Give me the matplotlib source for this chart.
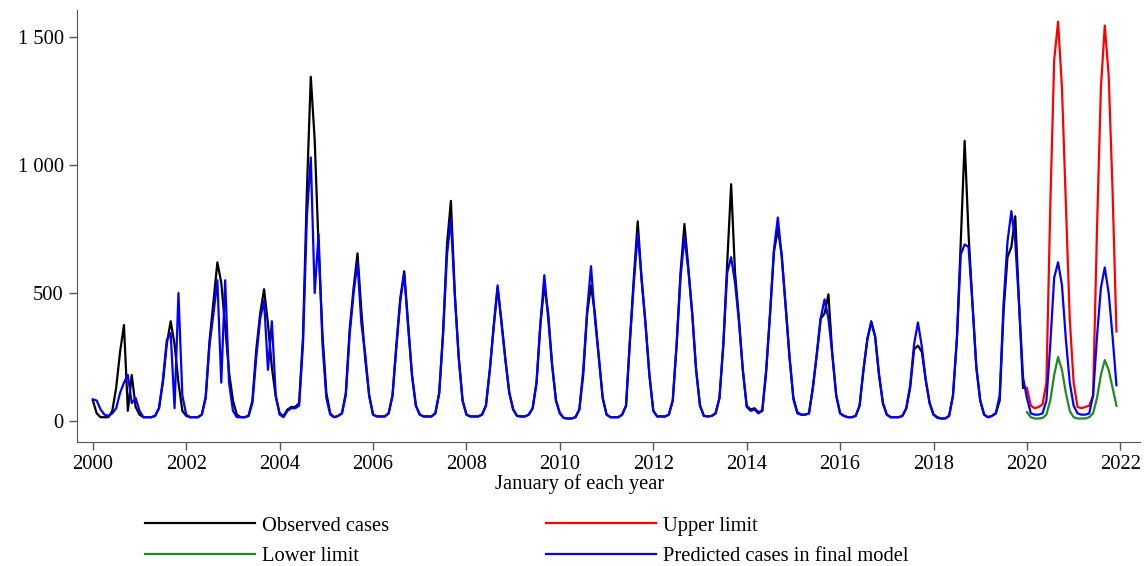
import numpy as np
import matplotlib
matplotlib.use("Agg")
import matplotlib.pyplot as plt

plt.rcParams["font.family"] = ["Liberation Serif", "DejaVu Serif"]

# monthly values, January 2000 - December 2019
observed = [
    80, 30, 15, 15, 15, 40, 130, 270, 375, 40, 180, 55,          # 2000
    25, 15, 15, 15, 20, 50, 150, 300, 390, 300, 150, 40,         # 2001
    20, 15, 15, 15, 25, 95, 316, 470, 620, 540, 370, 190,        # 2002
    80, 25, 15, 15, 20, 80, 280, 420, 515, 380, 210, 95,         # 2003
    30, 20, 45, 55, 55, 70, 330, 900, 1345, 1100, 680, 340,      # 2004
    110, 30, 15, 20, 30, 110, 360, 520, 655, 430, 240, 100,      # 2005
    25, 18, 18, 18, 30, 100, 300, 480, 585, 380, 180, 60,        # 2006
    25, 18, 18, 18, 30, 110, 350, 690, 860, 500, 250, 80,        # 2007
    25, 18, 18, 18, 25, 60, 200, 370, 520, 390, 240, 110,        # 2008
    45, 20, 18, 18, 25, 50, 150, 380, 530, 420, 220, 80,         # 2009
    30, 12, 10, 10, 15, 45, 180, 420, 530, 420, 250, 90,         # 2010
    25, 15, 15, 15, 25, 60, 320, 560, 780, 550, 380, 180,        # 2011
    40, 18, 18, 18, 25, 80, 300, 580, 770, 600, 420, 200,        # 2012
    60, 20, 18, 20, 30, 90, 300, 620, 925, 580, 400, 200,        # 2013
    60, 45, 50, 35, 40, 190, 420, 660, 750, 650, 450, 250,       # 2014
    90, 35, 25, 25, 30, 130, 260, 400, 420, 495, 260, 100,       # 2015
    30, 20, 15, 15, 20, 60, 200, 320, 390, 330, 180, 70,         # 2016
    25, 15, 15, 15, 20, 50, 130, 280, 295, 270, 160, 70,         # 2017
    25, 15, 10, 10, 20, 100, 320, 700, 1095, 730, 460, 210,      # 2018
    80, 25, 15, 20, 30, 80, 430, 640, 680, 800, 450, 130,        # 2019
]

# final model, January 2000 - December 2021
predicted = [
    85, 80, 45, 25, 20, 30, 50, 110, 150, 180, 70, 90,           # 2000
    40, 15, 15, 15, 20, 50, 160, 316, 344, 50, 500, 100,         # 2001
    25, 15, 15, 15, 25, 90, 300, 420, 550, 150, 550, 150,        # 2002
    40, 15, 15, 15, 20, 70, 250, 400, 470, 200, 390, 100,        # 2003
    25, 15, 40, 50, 50, 60, 300, 800, 1030, 500, 730, 300,       # 2004
    90, 25, 15, 20, 30, 100, 340, 500, 620, 380, 260, 100,       # 2005
    25, 18, 18, 18, 30, 100, 290, 470, 575, 370, 180, 60,        # 2006
    25, 18, 18, 18, 30, 110, 340, 650, 790, 490, 250, 80,        # 2007
    25, 18, 18, 18, 25, 60, 200, 370, 530, 380, 240, 110,        # 2008
    45, 20, 18, 18, 25, 50, 150, 380, 570, 400, 220, 80,         # 2009
    30, 12, 10, 10, 15, 45, 200, 430, 605, 400, 250, 90,         # 2010
    25, 15, 15, 15, 25, 60, 310, 540, 735, 560, 380, 180,        # 2011
    40, 18, 18, 18, 25, 80, 300, 560, 720, 590, 420, 200,        # 2012
    60, 20, 18, 20, 30, 90, 300, 580, 640, 540, 390, 200,        # 2013
    55, 40, 45, 30, 40, 200, 420, 670, 795, 640, 450, 250,       # 2014
    85, 30, 25, 25, 30, 130, 260, 400, 475, 400, 260, 100,       # 2015
    30, 20, 15, 15, 20, 60, 200, 320, 385, 330, 180, 70,         # 2016
    25, 15, 15, 15, 20, 50, 140, 300, 385, 290, 160, 70,         # 2017
    25, 12, 10, 10, 20, 100, 320, 650, 690, 680, 460, 210,       # 2018
    80, 25, 15, 20, 30, 100, 460, 700, 820, 700, 450, 170,       # 2019
    90, 30, 25, 25, 30, 80, 300, 560, 620, 530, 320, 150,        # 2020
    60, 30, 25, 25, 30, 100, 330, 520, 600, 500, 330, 140,       # 2021
]

# forecast limits, January 2020 - December 2021
upper = [
    130, 60, 50, 55, 65, 150, 840, 1410, 1560, 1300, 850, 400,
    150, 55, 50, 55, 60, 100, 750, 1300, 1545, 1350, 900, 350,
]
lower = [
    35, 15, 10, 10, 12, 25, 80, 180, 250, 200, 110, 40,
    15, 10, 10, 10, 15, 30, 90, 180, 238, 200, 130, 60,
]

y_ticks = [0, 500, 1000, 1500]
y_tick_labels = ["0", "500", "1 000", "1 500"]
x_ticks = list(range(2000, 2023, 2))

t_obs = 2000 + np.arange(len(observed)) / 12
t_pred = 2000 + np.arange(len(predicted)) / 12
t_fc = 2020 + np.arange(len(upper)) / 12

fig = plt.figure(figsize=(11.45, 5.66), dpi=100)
ax = fig.add_axes([0.0672, 0.219, 0.9284, 0.763])

l_obs, = ax.plot(t_obs, observed, color="black", lw=1.6, label="Observed cases")
l_up, = ax.plot(t_fc, upper, color="#ff0000", lw=1.6, label="Upper limit")
l_low, = ax.plot(t_fc, lower, color="#1e8c1e", lw=1.6, label="Lower limit")
l_pred, = ax.plot(t_pred, predicted, color="#0000ff", lw=1.6,
                  label="Predicted cases in final model")

ax.set_xlim(1999.66, 2022.42)
ax.set_ylim(-82, 1605)
ax.set_xticks(x_ticks)
ax.set_yticks(y_ticks)
ax.set_yticklabels(y_tick_labels)
ax.tick_params(labelsize=14.8, length=6, width=1, direction="out", color="#555555")
ax.spines["top"].set_visible(False)
ax.spines["right"].set_visible(False)
ax.spines["left"].set_color("#555555")
ax.spines["bottom"].set_color("#555555")

ax.set_xlabel("January of each year", fontsize=14.8)
ax.xaxis.set_label_coords(0.473, -0.074)

fig.legend([l_obs, l_low, l_up, l_pred],
           ["Observed cases", "Lower limit", "Upper limit", "Predicted cases in final model"],
           ncol=2, loc="upper left", bbox_to_anchor=(0.1266, 0.088),
           frameon=False, fontsize=14.8, handlelength=5.35, handletextpad=0.34,
           columnspacing=7.65, labelspacing=0.56, borderpad=0, borderaxespad=0)

fig.savefig("out.png", dpi=100)
